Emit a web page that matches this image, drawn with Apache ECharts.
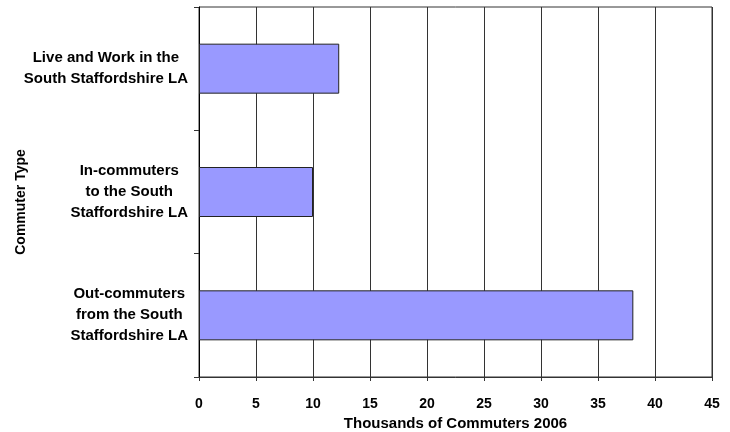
<!DOCTYPE html>
<html>
<head>
<meta charset="utf-8">
<script src="https://cdn.jsdelivr.net/npm/echarts@6/dist/echarts.min.js"></script>
<style>html,body{margin:0;padding:0;background:#fff}#c{width:730px;height:432px}</style>
</head>
<body>
<div id="c"></div>
<script>
const categories = [
  "Out-commuters\nfrom the South\nStaffordshire LA",
  "In-commuters\nto the South\nStaffordshire LA",
  "Live and Work in the\nSouth Staffordshire LA"
];
const values = [38.1, 10.0, 12.3];
const xTicks = [0, 5, 10, 15, 20, 25, 30, 35, 40, 45];

const chart = echarts.init(document.getElementById('c'));
const font = 'Liberation Sans, Arial, sans-serif';
chart.setOption({
  animation: false,
  grid: { left: 199, right: 18, top: 7, bottom: 55, show: true, borderColor: '#333', borderWidth: 1, containLabel: false, outerBoundsMode: 'none' },
  xAxis: {
    type: 'value', min: xTicks[0], max: xTicks[xTicks.length - 1], interval: 5,
    name: 'Thousands of Commuters 2006', nameLocation: 'middle', nameGap: 39, nameMoveOverlap: false,
    nameTextStyle: { fontFamily: font, fontWeight: 'bold', fontSize: 15, color: '#000' },
    axisLine: { show: true, lineStyle: { color: '#333', width: 1 } },
    axisTick: { show: true, length: 4, lineStyle: { color: '#333' } },
    axisLabel: { fontFamily: font, fontWeight: 'bold', fontSize: 14, color: '#000', margin: 20 },
    splitLine: { show: true, lineStyle: { color: '#333', width: 1 } }
  },
  yAxis: {
    type: 'category', data: categories,
    name: 'Commuter Type', nameLocation: 'middle', nameGap: 171, nameRotate: 90, nameMoveOverlap: false,
    nameTextStyle: { fontFamily: font, fontWeight: 'bold', fontSize: 14, color: '#000', padding: [0, 20, 0, 0] },
    axisLine: { show: true, lineStyle: { color: '#000', width: 1 } },
    axisTick: { show: true, length: 5, lineStyle: { color: '#333' } },
    axisLabel: {
      align: 'right', margin: 11,
      formatter: function (v) { return v.split('\n').map(function (l) { return '{c|' + l + '}'; }).join('\n'); },
      rich: { c: { align: 'center', fontFamily: font, fontWeight: 'bold', fontSize: 15, color: '#000', lineHeight: 21 } }
    }
  },
  series: [{
    type: 'bar', data: values, barWidth: 50,
    itemStyle: { color: '#9999FF', borderColor: '#222', borderWidth: 1 }
  }]
});
</script>
</body>
</html>
